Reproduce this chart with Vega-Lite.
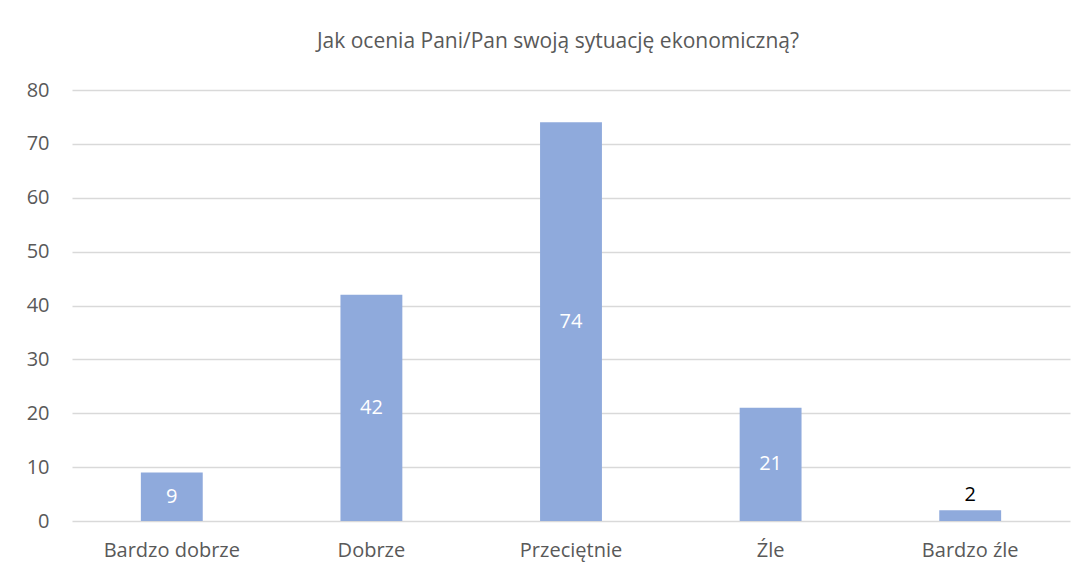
{
  "$schema": "https://vega.github.io/schema/vega-lite/v6.json",
  "width": 998,
  "height": 431,
  "autosize": {"type": "none"},
  "padding": {"left": 72, "top": 90, "right": 19, "bottom": 57},
  "background": "white",
  "title": {
    "text": "Jak ocenia Pani/Pan swoją sytuację ekonomiczną?",
    "font": "Open Sans",
    "fontSize": 21,
    "fontWeight": "normal",
    "color": "#595959",
    "anchor": "middle",
    "offset": 28,
    "dx": -13
  },
  "data": {
    "values": [
      {"kategoria": "Bardzo dobrze", "liczba": 9},
      {"kategoria": "Dobrze", "liczba": 42},
      {"kategoria": "Przeciętnie", "liczba": 74},
      {"kategoria": "Źle", "liczba": 21},
      {"kategoria": "Bardzo źle", "liczba": 2}
    ]
  },
  "encoding": {
    "x": {
      "field": "kategoria",
      "type": "nominal",
      "sort": null,
      "title": null,
      "scale": {"paddingInner": 0.69, "paddingOuter": 0.345},
      "axis": {
        "labelAngle": 0,
        "labelFont": "Open Sans",
        "labelFontSize": 20,
        "labelColor": "#595959",
        "labelPadding": 19,
        "ticks": false,
        "domain": false,
        "grid": false
      }
    }
  },
  "layer": [
    {
      "mark": {"type": "bar", "color": "#8FAADC"},
      "encoding": {
        "y": {
          "field": "liczba",
          "type": "quantitative",
          "title": null,
          "scale": {"domain": [0, 80]},
          "axis": {
            "values": [0, 10, 20, 30, 40, 50, 60, 70, 80],
            "labelFont": "Open Sans",
            "labelFontSize": 20,
            "labelColor": "#595959",
            "labelPadding": 23,
            "ticks": false,
            "domain": false,
            "grid": true,
            "gridColor": "#D9D9D9",
            "gridWidth": 1.3
          }
        }
      }
    },
    {
      "transform": [{"filter": "datum.liczba >= 5"}],
      "mark": {
        "type": "text",
        "font": "Open Sans",
        "fontSize": 20,
        "color": "white",
        "baseline": "middle",
        "y": {"expr": "scale('y', datum.liczba / 2)"}
      },
      "encoding": {
        "text": {"field": "liczba", "type": "quantitative"}
      }
    },
    {
      "transform": [{"filter": "datum.liczba < 5"}],
      "mark": {
        "type": "text",
        "font": "Open Sans",
        "fontSize": 20,
        "color": "black",
        "baseline": "bottom",
        "dy": -5
      },
      "encoding": {
        "y": {"field": "liczba", "type": "quantitative"},
        "text": {"field": "liczba", "type": "quantitative"}
      }
    }
  ],
  "config": {"view": {"stroke": null}}
}
